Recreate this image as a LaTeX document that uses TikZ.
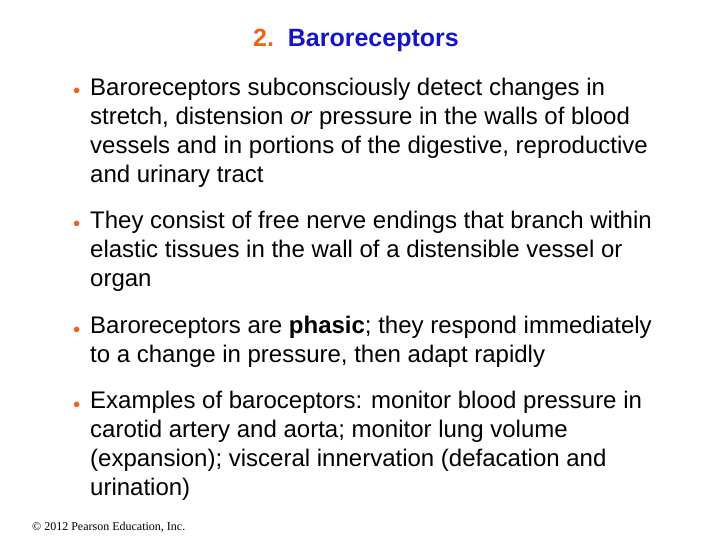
\documentclass[tikz,border=0pt]{standalone}
\usepackage{fontspec}
\setmainfont{Liberation Sans}
\newfontfamily\footfont{Liberation Serif}
\usepackage{xcolor}
\definecolor{slideorange}{RGB}{235,100,20}
\definecolor{slideblue}{RGB}{20,20,200}
\begin{document}
\begin{tikzpicture}[x=1pt,y=-1pt,
    bodytext/.style={anchor=north west,inner sep=0pt,align=left,font=\fontsize{24}{29}\selectfont},
    bulletmark/.style={anchor=base west,inner sep=0pt,text=slideorange,font=\fontsize{15}{20}\selectfont}]

   \useasboundingbox (0,0) rectangle (720,540);

   \node[anchor=base,inner sep=0pt,font=\bfseries\fontsize{25}{28}\selectfont] (title) at (356,47)
      {\textcolor{slideorange}{2.}\ \ \textcolor{slideblue}{Baroreceptors}};

   \node[bulletmark] (b1) at (73,95) {$\bullet$};
   \node[bodytext] (t1) at (90,78) {Baroreceptors subconsciously detect changes in\\
      stretch, distension \emph{or} pressure in the walls of blood\\
      vessels and in portions of the digestive, reproductive\\
      and urinary tract};

   \node[bulletmark] (b2) at (73,228) {$\bullet$};
   \node[bodytext] (t2) at (90,211) {They consist of free nerve endings that branch within\\
      elastic tissues in the wall of a distensible vessel or\\
      organ};

   \node[bulletmark] (b3) at (73,333) {$\bullet$};
   \node[bodytext] (t3) at (90,316) {Baroreceptors are \textbf{phasic}; they respond immediately\\
      to a change in pressure, then adapt rapidly};

   \node[bulletmark] (b4) at (73,408) {$\bullet$};
   \node[bodytext] (t4) at (90,391) {Examples of baroceptors: monitor blood pressure in\\
      carotid artery and aorta; monitor lung volume\\
      (expansion); visceral innervation (defacation and\\
      urination)};

   \node[anchor=base west,inner sep=0pt,font=\footfont\fontsize{12}{14}\selectfont] (foot) at (32,530)
      {\textcopyright\ 2012 Pearson Education, Inc.};
\end{tikzpicture}
\end{document}
